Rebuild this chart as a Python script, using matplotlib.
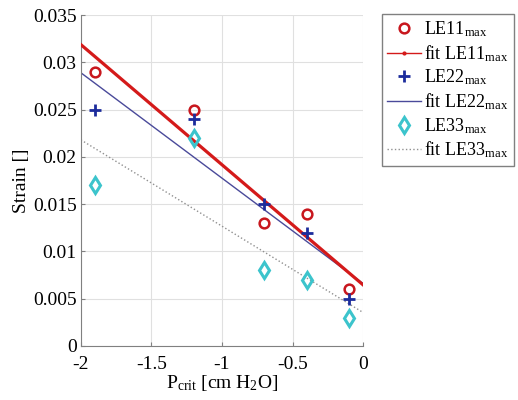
import numpy as np
import matplotlib
matplotlib.use("Agg")
import matplotlib.pyplot as plt
from matplotlib.lines import Line2D

plt.rcParams['font.family'] = ['Liberation Serif', 'DejaVu Serif']
plt.rcParams['mathtext.fontset'] = 'custom'
plt.rcParams['mathtext.rm'] = 'Liberation Serif'
plt.rcParams['mathtext.it'] = 'Liberation Serif:italic'

p_crit = [-1.9, -1.2, -0.7, -0.4, -0.1]
le11 = [0.029, 0.025, 0.013, 0.014, 0.006]
le22 = [0.025, 0.024, 0.015, 0.012, 0.005]
le33 = [0.017, 0.022, 0.008, 0.007, 0.003]

red = '#c8171e'
blue = '#1c2c9c'
cyan = '#3cc4cc'

fig = plt.figure(figsize=(5.18, 4.0), dpi=100)
ax = fig.add_axes([0.156, 0.135, 0.545, 0.827])

xf = np.array([-2.0, 0.0])
k11 = np.polyfit(p_crit, le11, 1)
k22 = np.polyfit(p_crit, le22, 1)
k33 = np.polyfit(p_crit, le33, 1)

ax.plot(xf, np.polyval(k33, xf), ':', color='#909090', lw=1, zorder=2)
ax.plot(xf, np.polyval(k22, xf), '-', color='#4a4a9a', lw=1, zorder=2)
ax.plot(xf, np.polyval(k11, xf), '-', color='#d41a1a', lw=2.3, zorder=3)

ax.plot(p_crit, le11, 'o', mfc='none', mec=red, mew=1.8, ms=7, zorder=4)
ax.plot(p_crit, le22, '+', color=blue, mew=2, ms=8, zorder=4)
ax.plot(p_crit, le33, 'd', mfc='none', mec=cyan, mew=2.2, ms=8, zorder=4)

ax.set_xlim(-2, 0)
ax.set_ylim(0, 0.035)
ax.set_xticks([-2, -1.5, -1, -0.5, 0])
ax.set_xticklabels(['-2', '-1.5', '-1', '-0.5', '0'])
ax.set_yticks([0, 0.005, 0.01, 0.015, 0.02, 0.025, 0.03, 0.035])
ax.set_yticklabels(['0', '0.005', '0.01', '0.015', '0.02', '0.025', '0.03', '0.035'])
ax.grid(True, color='#e0e0e0', lw=0.8)
ax.set_axisbelow(True)
for s in ['top', 'right']:
    ax.spines[s].set_visible(False)
for s in ['left', 'bottom']:
    ax.spines[s].set_color('#808080')
ax.tick_params(direction='in', length=3, color='#808080', labelsize=14, pad=3)
ax.tick_params(axis='x', pad=7)
ax.set_ylabel('Strain []', fontsize=14, labelpad=2)
ax.set_xlabel(r'P$_{\mathrm{crit}}$ [cm H$_2$O]', fontsize=14, labelpad=0)

handles = [
    Line2D([], [], ls='none', marker='o', mfc='none', mec=red, mew=1.8, ms=7),
    Line2D([], [], color='#d41a1a', lw=1, marker='.', ms=4),
    Line2D([], [], ls='none', marker='+', color=blue, mew=2, ms=8),
    Line2D([], [], color='#4a4a9a', lw=1),
    Line2D([], [], ls='none', marker='d', mfc='none', mec=cyan, mew=2.2, ms=8),
    Line2D([], [], color='#909090', lw=1, ls=':'),
]
labels = [r'LE11$_{\mathrm{max}}$', r'fit LE11$_{\mathrm{max}}$',
          r'LE22$_{\mathrm{max}}$', r'fit LE22$_{\mathrm{max}}$',
          r'LE33$_{\mathrm{max}}$', r'fit LE33$_{\mathrm{max}}$']
leg = fig.legend(handles, labels, loc='upper left', bbox_to_anchor=(0.737, 0.965),
                 fontsize=13, fancybox=False, edgecolor='#808080', framealpha=1,
                 handlelength=1.9, handletextpad=0.15, labelspacing=0.22,
                 borderpad=0.3, borderaxespad=0)
leg.get_frame().set_linewidth(1)

fig.savefig('out.png', dpi=100)
